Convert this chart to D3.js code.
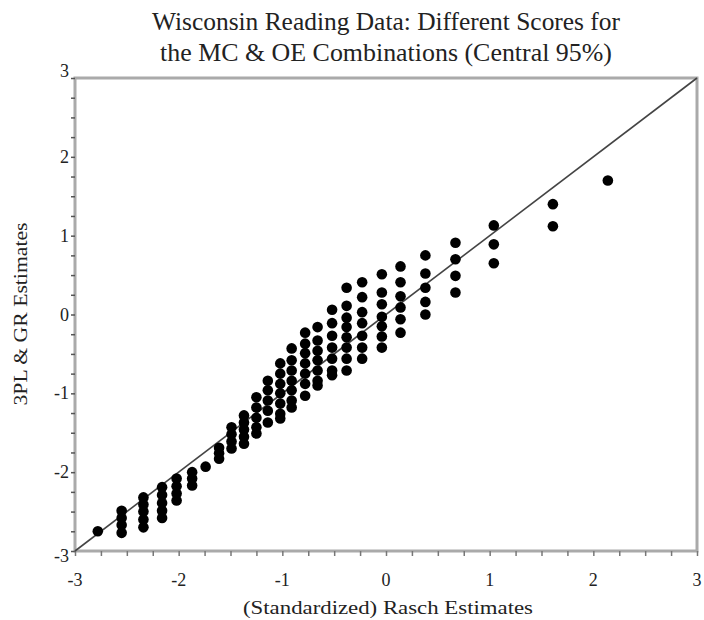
<!DOCTYPE html>
<html>
<head>
<meta charset="utf-8">
<script src="https://cdn.jsdelivr.net/npm/d3@7"></script>
<style>
  body { margin: 0; background: #fff; }
  text { font-family: "Liberation Serif", serif; fill: #222; }
</style>
</head>
<body>
<div id="chart"></div>
<script>
// Rasch estimate of each column of points
const columnX = [-2.78, -2.55, -2.34, -2.16, -2.02, -1.87, -1.74, -1.61, -1.49, -1.37,
  -1.25, -1.14, -1.02, -0.91, -0.78, -0.66, -0.52, -0.38, -0.23, -0.04,
  0.14, 0.38, 0.67, 1.04, 1.61, 2.14];

// 3PL & GR estimates for each column
const columnY = [
  [-2.75],
  [-2.49, -2.58, -2.67, -2.77],
  [-2.32, -2.41, -2.50, -2.60, -2.70],
  [-2.19, -2.29, -2.39, -2.49, -2.58],
  [-2.08, -2.18, -2.27, -2.36],
  [-2.00, -2.08, -2.17],
  [-1.93],
  [-1.69, -1.76, -1.83],
  [-1.43, -1.52, -1.61, -1.70],
  [-1.28, -1.37, -1.46, -1.55, -1.64],
  [-1.05, -1.18, -1.31, -1.43, -1.51],
  [-0.84, -0.96, -1.09, -1.22, -1.37],
  [-0.62, -0.75, -0.88, -1.00, -1.13, -1.26, -1.32],
  [-0.43, -0.58, -0.71, -0.84, -0.96, -1.09, -1.18],
  [-0.23, -0.37, -0.49, -0.62, -0.75, -0.88, -1.03],
  [-0.16, -0.33, -0.46, -0.58, -0.71, -0.84, -0.90],
  [0.06, -0.11, -0.27, -0.42, -0.56, -0.71, -0.77],
  [0.34, 0.11, -0.04, -0.16, -0.29, -0.42, -0.56, -0.71],
  [0.41, 0.22, 0.03, -0.11, -0.27, -0.42, -0.56],
  [0.51, 0.28, 0.13, -0.03, -0.15, -0.28, -0.42],
  [0.61, 0.41, 0.23, 0.09, -0.06, -0.23],
  [0.75, 0.52, 0.34, 0.16, 0.00],
  [0.91, 0.70, 0.49, 0.28],
  [1.13, 0.89, 0.65],
  [1.40, 1.12],
  [1.70]
];

const tickValues = [-3, -2, -1, 0, 1, 2, 3];
const titleLines = ["Wisconsin Reading Data: Different Scores for",
  "the MC & OE Combinations (Central 95%)"];

const width = 704, height = 620;
const margin = { top: 78, right: 7, bottom: 69, left: 75 };

const svg = d3.select("#chart").append("svg")
  .attr("width", width)
  .attr("height", height);

const x = d3.scaleLinear().domain([-3, 3]).range([margin.left, width - margin.right]);
const y = d3.scaleLinear().domain([-3, 3]).range([height - margin.bottom, margin.top]);

// flatten the columns into points
const points = [];
columnX.forEach((cx, i) => {
  columnY[i].forEach(v => points.push([cx, v]));
});

// frame
svg.append("rect")
  .attr("x", x(-3)).attr("y", y(3))
  .attr("width", x(3) - x(-3)).attr("height", y(-3) - y(3))
  .attr("fill", "none")
  .attr("stroke", "#aaa")
  .attr("stroke-width", 3);

// minor + major ticks
const minor = d3.range(-3, 3.001, 0.25);
svg.append("g")
  .attr("transform", `translate(${x(-3)},0)`)
  .call(d3.axisLeft(y).tickValues(minor).tickSize(4).tickFormat(""))
  .call(g => g.select(".domain").remove())
  .call(g => g.selectAll("line").attr("stroke", "#555").attr("stroke-width", 1.5));

svg.append("g")
  .attr("transform", `translate(0,${y(-3)})`)
  .call(d3.axisBottom(x).tickValues(minor).tickSize(5).tickFormat(""))
  .call(g => g.select(".domain").remove())
  .call(g => g.selectAll("line").attr("stroke", "#777").attr("stroke-width", 1.5));

// tick labels
svg.append("g").selectAll("text")
  .data(tickValues)
  .join("text")
  .attr("x", 69)
  .attr("y", d => y(d) + (d === 3 ? -1 : d === -3 ? 11 : 6))
  .attr("text-anchor", "end")
  .style("font-size", "18px")
  .text(d => d);

svg.append("g").selectAll("text")
  .data(tickValues)
  .join("text")
  .attr("x", d => x(d))
  .attr("y", y(-3) + 35)
  .attr("text-anchor", "middle")
  .style("font-size", "18px")
  .text(d => d);

// diagonal reference line
svg.append("line")
  .attr("x1", x(-3)).attr("y1", y(-3))
  .attr("x2", x(3)).attr("y2", y(3))
  .attr("stroke", "#444")
  .attr("stroke-width", 1.6);

// points
svg.append("g").selectAll("circle")
  .data(points)
  .join("circle")
  .attr("cx", d => x(d[0]))
  .attr("cy", d => y(d[1]))
  .attr("r", 5.3)
  .attr("fill", "#000");

// titles
svg.append("g").selectAll("text")
  .data(titleLines)
  .join("text")
  .attr("x", 386)
  .attr("y", (d, i) => 30 + i * 31)
  .attr("text-anchor", "middle")
  .attr("textLength", (d, i) => i === 0 ? 468 : 452)
  .attr("lengthAdjust", "spacingAndGlyphs")
  .style("font-size", "25px")
  .text(d => d);

svg.append("text")
  .attr("x", 388)
  .attr("y", 614)
  .attr("text-anchor", "middle")
  .attr("textLength", 290)
  .attr("lengthAdjust", "spacingAndGlyphs")
  .style("font-size", "19px")
  .text("(Standardized) Rasch Estimates");

svg.append("text")
  .attr("transform", "translate(27,314) rotate(-90)")
  .attr("text-anchor", "middle")
  .attr("textLength", 183)
  .attr("lengthAdjust", "spacingAndGlyphs")
  .style("font-size", "19px")
  .text("3PL & GR Estimates");
</script>
</body>
</html>
